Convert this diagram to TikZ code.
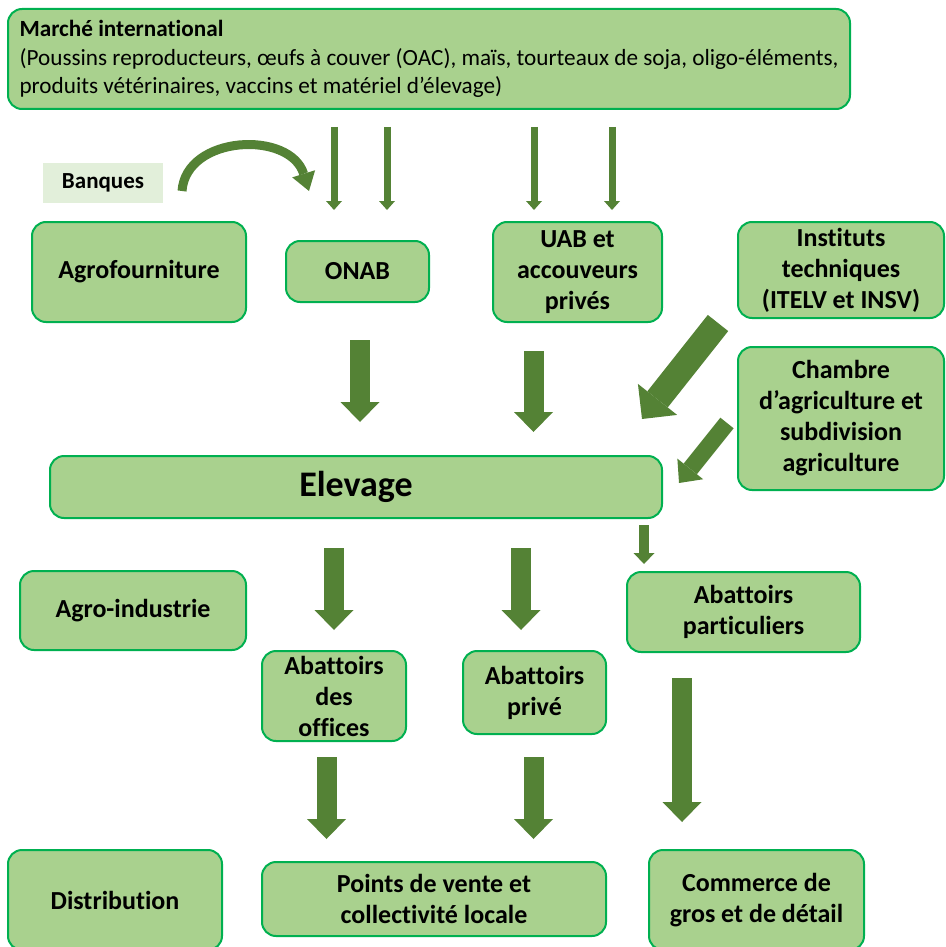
\documentclass[tikz,border=0pt]{standalone}
\usepackage{fontspec}
\setmainfont{Carlito}[Ligatures=NoCommon]
\usetikzlibrary{arrows.meta}
\definecolor{boxfill}{HTML}{A9D18E}
\definecolor{boxline}{HTML}{00B050}
\definecolor{arrowgreen}{HTML}{548235}
\definecolor{bankfill}{HTML}{E2EFDA}

\begin{document}
\begin{tikzpicture}[x=1pt, y=-1pt,
        box/.style={rectangle, rounded corners=14pt, draw=boxline, line width=2pt, fill=boxfill, align=center, inner sep=0pt, font=\fontsize{26}{31}\selectfont\bfseries},
        bigarrow/.style={draw=arrowgreen, line width=20pt, -{Triangle[width=39pt, length=20pt, line width=0pt]}},
        widearrow/.style={draw=arrowgreen, line width=26pt, -{Triangle[width=50pt, length=25pt, line width=0pt]}},
        midarrow/.style={draw=arrowgreen, line width=17pt, -{Triangle[width=33pt, length=18pt, line width=0pt]}},
        smallarrow/.style={draw=arrowgreen, line width=10pt, -{Triangle[width=21pt, length=11pt, line width=0pt]}},
        thinarrow/.style={draw=arrowgreen, line width=7pt, -{Triangle[width=16pt, length=9pt, line width=0pt]}},
        curvearrow/.style={draw=arrowgreen, line width=9pt, -{Triangle[width=24pt, length=18pt, line width=0pt]}}
    ]
        \useasboundingbox (0,0) rectangle (945,947);
        % Marche international
        \node[box, align=left, minimum width=842pt, minimum height=100pt, font=\fontsize{23.2}{28.5}\selectfont] (marche) at (429,59) {\textbf{Marché international}\\(Poussins reproducteurs, œufs à couver (OAC), maïs, tourteaux de soja, oligo-éléments,\\produits vétérinaires, vaccins et matériel d’élevage)};
        \node[fill=bankfill, minimum width=120pt, minimum height=40pt, inner sep=0pt, font=\fontsize{23}{26}\selectfont\bfseries] (banques) at (103,183) {Banques};
        % Amont
        \node[box, minimum width=214pt, minimum height=100pt] (agro) at (139,272) {Agrofourniture};
        \node[box, minimum width=143pt, minimum height=61pt] (onab) at (357.5,271.5) {ONAB};
        \node[box, minimum width=169pt, minimum height=100pt] (uab) at (577.5,272) {UAB et\\accouveurs\\privés};
        \node[box, minimum width=206pt, minimum height=96pt] (inst) at (841,270) {Instituts\\techniques\\(ITELV et INSV)};
        \node[box, minimum width=206pt, minimum height=143pt] (chambre) at (841,418.5) {Chambre\\d’agriculture et\\subdivision\\agriculture};
        % Elevage
        \node[box, minimum width=612pt, minimum height=62pt, font=\fontsize{36}{40}\selectfont\bfseries] (elev) at (356,487) {Elevage};
        % Abattage
        \node[box, minimum width=226pt, minimum height=79pt] (agroind) at (133,610.5) {Agro-industrie};
        \node[box, minimum width=233pt, minimum height=80pt] (abpart) at (743.5,612) {Abattoirs\\particuliers};
        \node[box, minimum width=144pt, minimum height=90pt] (aboff) at (334,696) {Abattoirs\\des\\offices};
        \node[box, minimum width=143pt, minimum height=83pt] (abprive) at (534.5,692.5) {Abattoirs\\privé};
        % Distribution
        \node[box, minimum width=214pt, minimum height=100pt] (distrib) at (115,900) {Distribution};
        \node[box, minimum width=344pt, minimum height=74pt] (points) at (434,899) {Points de vente et\\collectivité locale};
        \node[box, minimum width=215pt, minimum height=100pt] (commerce) at (756.5,900) {Commerce de\\gros et de détail};
        % Arrow ends
        \coordinate (m1a) at (334,127);  \coordinate (m1b) at (334,210);
        \coordinate (m2a) at (387,127);  \coordinate (m2b) at (387,210);
        \coordinate (m3a) at (534,127);  \coordinate (m3b) at (534,210);
        \coordinate (m4a) at (612,127);  \coordinate (m4b) at (612,210);
        \coordinate (bqa) at (182,191);  \coordinate (bqb) at (309,191);
        \coordinate (ona) at (360,340);  \coordinate (onb) at (360,422);
        \coordinate (uaa) at (533.5,351); \coordinate (uab2) at (533.5,432);
        \coordinate (ina) at (718,323);  \coordinate (inb) at (642,419);
        \coordinate (cha) at (727,423);  \coordinate (chb) at (679,483);
        \coordinate (ela) at (334,548);  \coordinate (elb) at (334,630);
        \coordinate (elc) at (521,548);  \coordinate (eld) at (521,630);
        \coordinate (ele) at (644,525);  \coordinate (elf) at (644,564);
        \coordinate (ofa) at (326.5,757); \coordinate (ofb) at (326.5,839);
        \coordinate (pra) at (533.5,757); \coordinate (prb) at (533.5,839);
        \coordinate (paa) at (682,678);  \coordinate (pab) at (682,822);
        % Arrows
        \draw[thinarrow] (m1a) -- (m1b);
        \draw[thinarrow] (m2a) -- (m2b);
        \draw[thinarrow] (m3a) -- (m3b);
        \draw[thinarrow] (m4a) -- (m4b);
        \draw[curvearrow] (bqa) .. controls (186,135) and (290,130) .. (bqb);
        \draw[bigarrow] (ona) -- (onb);
        \draw[bigarrow] (uaa) -- (uab2);
        \draw[widearrow] (ina) -- (inb);
        \draw[midarrow] (cha) -- (chb);
        \draw[bigarrow] (ela) -- (elb);
        \draw[bigarrow] (elc) -- (eld);
        \draw[smallarrow] (ele) -- (elf);
        \draw[bigarrow] (ofa) -- (ofb);
        \draw[bigarrow] (pra) -- (prb);
        \draw[bigarrow] (paa) -- (pab);
    \end{tikzpicture}
\end{document}
